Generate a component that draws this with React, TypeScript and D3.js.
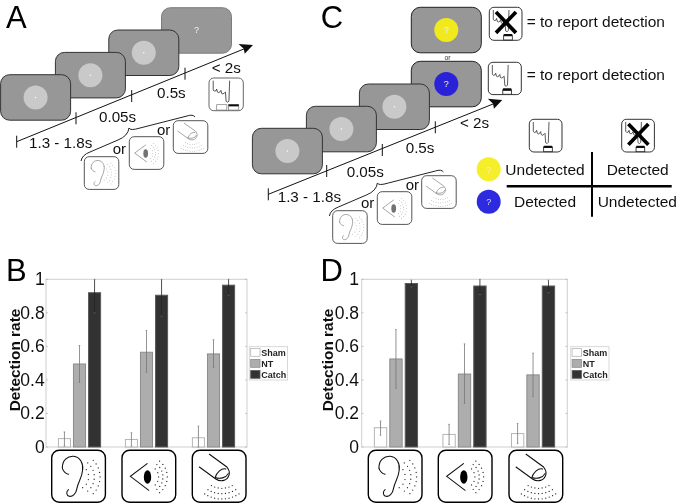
import React from "react";
import * as d3 from "d3";

const modalities = ["ear", "eye", "finger"];
const shamB = [0.05, 0.045, 0.055];
const ntB = [0.495, 0.565, 0.555];
const catchB = [0.92, 0.905, 0.965];
const shamBErr = [[0.005, 0.09], [0.005, 0.085], [0.0, 0.125]];
const ntBErr = [[0.385, 0.605], [0.445, 0.695], [0.475, 0.64]];
const catchBErr = [[0.8, 1.0], [0.78, 1.0], [0.905, 1.0]];
const shamD = [0.115, 0.075, 0.08];
const ntD = [0.525, 0.435, 0.43];
const catchD = [0.975, 0.96, 0.96];
const shamDErr = [[0.07, 0.155], [0.015, 0.135], [0.02, 0.14]];
const ntDErr = [[0.35, 0.7], [0.26, 0.615], [0.3, 0.56]];
const catchDErr = [[0.955, 0.995], [0.91, 1.0], [0.92, 0.995]];
const yTicks = [0, 0.2, 0.4, 0.6, 0.8, 1];
const yTickLabels = ["0", "0.2", "0.4", "0.6", "0.8", "1"];
const legendNames = ["Sham", "NT", "Catch"];
const durations = ["1.3 - 1.8s", "0.05s", "0.5s", "< 2s"];

const FONT = "'Liberation Sans', Arial, sans-serif";
const barStyles = [
  { fill: "#ffffff", stroke: "#b5b5b5" },
  { fill: "#adadad", stroke: "#8c8c8c" },
  { fill: "#333333", stroke: "#5a5a5a" },
];

function DottedArcs({ cx, cy, arcs, mid }: { cx: number; cy: number; arcs: number[][]; mid: number }) {
  const pts: [number, number][] = [];
  arcs.forEach(([r, span, n]) => {
    d3.range(n).forEach((i) => {
      const a = ((mid - span + (2 * span * i) / (n - 1)) * Math.PI) / 180;
      pts.push([cx + r * Math.cos(a), cy + r * Math.sin(a)]);
    });
  });
  return (
    <g>
      {pts.map((p, i) => (
        <circle key={i} cx={p[0]} cy={p[1]} r={1.9} fill="#222" />
      ))}
    </g>
  );
}

function StimGlyph({ kind }: { kind: string }) {
  const s = { fill: "none", stroke: "#111", strokeWidth: 3.2, strokeLinecap: "round" as const };
  if (kind === "ear") {
    return (
      <g>
        <path {...s} d="M32,55 C30,30 48,17 65,18 C85,20 95,40 92,60 C90,85 78,95 75,115 C73,130 62,140 52,138 C44,136 42,124 50,118" />
        <path {...s} d="M32,55 C36,65 42,70 50,72" />
        <DottedArcs cx={72} cy={80} mid={0} arcs={[[72, 44, 9], [55, 50, 8], [38, 58, 6]]} />
      </g>
    );
  }
  if (kind === "eye") {
    return (
      <g>
        <path {...s} d="M75,40 L25,78 L80,120" />
        <ellipse cx={76} cy={80} rx={11} ry={20} fill="#000" />
        <DottedArcs cx={75} cy={80} mid={0} arcs={[[60, 52, 9], [47, 52, 8], [34, 45, 5]]} />
      </g>
    );
  }
  return (
    <g>
      <path {...s} d="M21,50 L70,86 C85,96 105,92 110,72 C112,62 108,56 103,50 L51,12" />
      <path {...s} d="M68,82 C72,66 88,52 100,56 M68,82 C82,86 100,84 107,70" />
      <DottedArcs cx={88} cy={52} mid={90} arcs={[[94, 33, 11], [78, 32, 9], [62, 30, 7]]} />
    </g>
  );
}

function Stim({ kind, x, y, w, h, sw, stroke }: { kind: string; x: number; y: number; w: number; h: number; sw: number; stroke: string }) {
  const k = w / 160;
  return (
    <g transform={`translate(${x},${y})`}>
      <rect width={w} height={h} rx={w * 0.14} fill="#fff" stroke={stroke} strokeWidth={sw} />
      <g transform={`scale(${k},${h / 156})`} opacity={sw > 1.2 ? 1 : 0.55}>
        <StimGlyph kind={kind} />
      </g>
    </g>
  );
}

function HandIcon({ x, y, w, h, cross, pair, stroke }: { x: number; y: number; w: number; h: number; cross?: boolean; pair?: boolean; stroke?: string }) {
  const s = { fill: "none", stroke: "#333", strokeWidth: 2.4 };
  return (
    <g transform={`translate(${x},${y})`}>
      <rect width={w} height={h} rx={w * 0.14} fill="#fff" stroke={stroke ?? "#333"} strokeWidth={1} />
      <g transform={`scale(${w / 98},${h / 98})`}>
        <path {...s} d="M12,8 L12,36 Q14,42 20,38 L22,33 L24,42 Q28,46 32,41 L34,37 L36,46 Q40,50 44,45 L47,42 L49,70 Q54,76 57,69 L59,8" />
        {pair ? (
          <g>
            <rect x={22} y={80} width={29} height={16} fill="#fff" stroke="#777" strokeWidth={2} />
            <rect x={56} y={80} width={29} height={16} fill="#fff" stroke="#777" strokeWidth={2} />
            <rect x={56} y={79} width={29} height={6} fill="#111" />
          </g>
        ) : (
          <g>
            <rect x={43} y={84} width={26} height={13} fill="#fff" stroke="#222" strokeWidth={2.5} />
            <rect x={43} y={79} width={26} height={7} rx={2} fill="#111" />
          </g>
        )}
        {cross && <path d="M20,14 L80,76 M80,14 L20,76" stroke="#000" strokeWidth={11} fill="none" />}
      </g>
    </g>
  );
}

function Screen({ x, y, disc, mark, border }: { x: number; y: number; disc?: string; mark: string; border: string }) {
  const w = 70;
  const h = 45.5;
  return (
    <g>
      <rect x={x} y={y} width={w} height={h} rx={9} fill="#979797" stroke={border} strokeWidth={1} />
      {disc && <circle cx={x + w / 2} cy={y + h / 2} r={12} fill={disc} />}
      {mark === "dot" ? (
        <circle cx={x + w / 2} cy={y + h / 2} r={0.7} fill="#fff" />
      ) : (
        <text x={x + w / 2} y={y + h / 2 + 3} textAnchor="middle" fontFamily={FONT} fontSize={9} fill="#f0f0f0">?</text>
      )}
    </g>
  );
}

function Timeline({ start, tip, ticks, labels }: { start: number[]; tip: number[]; ticks: number[][]; labels: number[][] }) {
  const ang = Math.atan2(tip[1] - start[1], tip[0] - start[0]);
  const deg = (ang * 180) / Math.PI;
  return (
    <g>
      <line x1={start[0]} y1={start[1]} x2={tip[0] - 8} y2={tip[1] + 3.5} stroke="#111" strokeWidth={1} />
      <path d="M0,0 L-13,-6.5 L-10,0 L-11,5 Z" fill="#111" transform={`translate(${tip[0]},${tip[1]}) rotate(${deg})`} />
      {ticks.map((t, i) => (
        <line key={i} x1={t[0]} x2={t[0]} y1={t[1] - 6} y2={t[1] + 6} stroke="#111" strokeWidth={1} />
      ))}
      {durations.map((d, i) => (
        <text key={d} x={labels[i][0]} y={labels[i][1]} fontFamily={FONT} fontSize={15.2} fill="#111">{d}</text>
      ))}
    </g>
  );
}

function Brace({ dx, dy }: { dx: number; dy: number }) {
  return (
    <path transform={`translate(${dx},${dy})`} d="M81,161 Q82,155 90,152 L118,140 Q128,136 129,128 Q130,131 140,128 L187,116 Q193,114 195,117" fill="none" stroke="#222" strokeWidth={1} />
  );
}

function StimRow({ ear, eye, finger, ors }: { ear: number[]; eye: number[]; finger: number[]; ors: number[][] }) {
  const p = { w: 34.5, h: 32.7, sw: 1, stroke: "#555" };
  return (
    <g>
      <Stim kind="ear" x={ear[0]} y={ear[1]} {...p} />
      <Stim kind="eye" x={eye[0]} y={eye[1]} {...p} />
      <Stim kind="finger" x={finger[0]} y={finger[1]} {...p} />
      {ors.map((o, i) => (
        <text key={i} x={o[0]} y={o[1]} fontFamily={FONT} fontSize={15} fill="#111">or</text>
      ))}
    </g>
  );
}

function BarPanel({ left, right, tickRight, titleX, legendX, iconXs, letter, letterX, series, errs }: {
  left: number; right: number; tickRight: number; titleX: number; legendX: number; iconXs: number[]; letter: string; letterX: number; series: number[][]; errs: number[][][];
}) {
  const top = 279.3;
  const bottom = 447;
  const y = d3.scaleLinear().domain([0, 1]).range([bottom, top]);
  const x = d3.scaleLinear().domain([0.5, 3.5]).range([left, right]);
  const unit = x(2) - x(1);
  const barW = 0.18 * unit;
  const offs = [-0.225, 0, 0.225];
  return (
    <g>
      <text x={letterX} y={280.7} fontFamily={FONT} fontSize={31} fill="#000">{letter}</text>
      <rect x={left} y={top} width={right - left} height={bottom - top} fill="#fff" stroke="#cfcfcf" strokeWidth={1} />
      {yTicks.map((t, i) => (
        <g key={t}>
          <line x1={left} x2={left + 1.8} y1={y(t)} y2={y(t)} stroke="#aaa" strokeWidth={0.7} />
          <line x1={right - 1.8} x2={right} y1={y(t)} y2={y(t)} stroke="#aaa" strokeWidth={0.7} />
          <text x={tickRight} y={y(t) + 6} textAnchor="end" fontFamily={FONT} fontSize={17.5} fill="#111">{yTickLabels[i]}</text>
        </g>
      ))}
      <text transform={`translate(${titleX},360) rotate(-90)`} textAnchor="middle" fontFamily={FONT} fontWeight="bold" fontSize={15.4} fill="#111">Detection rate</text>
      {series.map((vals, s) =>
        vals.map((v, g) => {
          const cx = x(g + 1 + offs[s]);
          const e = errs[s][g];
          return (
            <g key={`${s}-${g}`}>
              <rect x={cx - barW / 2} y={y(v)} width={barW} height={bottom - y(v)} fill={barStyles[s].fill} stroke={barStyles[s].stroke} strokeWidth={1} />
              <line x1={cx} x2={cx} y1={y(e[0])} y2={y(e[1])} stroke={s === 2 ? "#222" : "#777"} strokeWidth={0.8} />
              <line x1={cx - 0.8} x2={cx + 0.8} y1={y(e[1])} y2={y(e[1])} stroke="#777" strokeWidth={0.7} />
              <line x1={cx - 0.8} x2={cx + 0.8} y1={y(e[0])} y2={y(e[0])} stroke="#777" strokeWidth={0.7} />
            </g>
          );
        })
      )}
      <rect x={legendX} y={346.7} width={38.3} height={33.3} fill="#fff" stroke="#cfcfcf" strokeWidth={0.8} />
      {legendNames.map((n, i) => (
        <g key={n}>
          <rect x={legendX + 1.4} y={348.5 + i * 11} width={9.3} height={7.8} fill={barStyles[i].fill} stroke={barStyles[i].stroke} strokeWidth={0.8} />
          <text x={legendX + 12} y={355.8 + i * 11} fontFamily={FONT} fontWeight="bold" fontSize={9} fill="#222">{n}</text>
        </g>
      ))}
      {modalities.map((m, i) => (
        <Stim key={m} kind={m} x={iconXs[i]} y={450.3} w={53.7} h={52} sw={1.4} stroke="#000" />
      ))}
    </g>
  );
}

export default function App() {
  return (
    <svg width={678} height={503} style={{ position: "absolute", left: 0, top: 0, background: "#fff" }}>
      <defs>
        <filter id="soft" x="0" y="0" width="100%" height="100%">
          <feGaussianBlur stdDeviation={0.35} />
        </filter>
      </defs>
      <g filter="url(#soft)">
        <rect width={678} height={503} fill="#fff" />
        {/* Panel A */}
        <text x={6} y={28} fontFamily={FONT} fontSize={31} fill="#000">A</text>
        <Screen x={161.5} y={7.7} mark="q" border="#7c7c7c" />
        <Screen x={108.8} y={30} disc="#c9c9c9" mark="dot" border="#333" />
        <Screen x={55.4} y={52.4} disc="#c9c9c9" mark="dot" border="#333" />
        <Screen x={0.6} y={74.7} disc="#c9c9c9" mark="dot" border="#333" />
        <Timeline
          start={[16.7, 141.7]}
          tip={[253, 45]}
          ticks={[[16.7, 141.7], [76, 118.3], [131.7, 96], [185, 73.7]]}
          labels={[[29, 148], [99, 121.7], [157, 97.7], [211.7, 73]]}
        />
        <HandIcon x={209} y={78} w={34.3} h={32.7} pair stroke="#666" />
        <Brace dx={0} dy={0} />
        <StimRow ear={[84.3, 156.7]} eye={[129.3, 136.7]} finger={[173.3, 120.7]} ors={[[112.7, 154], [157, 135]]} />

        {/* Panel C */}
        <text x={320.7} y={28} fontFamily={FONT} fontSize={31} fill="#000">C</text>
        <Screen x={411.3} y={7.3} disc="#f0ea1e" mark="q" border="#222" />
        <text x={447.5} y={60} textAnchor="middle" fontFamily={FONT} fontSize={7} fill="#333">or</text>
        <Screen x={411.3} y={61.3} disc="#2a22d8" mark="q" border="#222" />
        <Screen x={359.4} y={84} disc="#c9c9c9" mark="dot" border="#333" />
        <Screen x={306.4} y={106.3} disc="#c9c9c9" mark="dot" border="#333" />
        <Screen x={252.4} y={128.3} disc="#c9c9c9" mark="dot" border="#333" />
        <Timeline
          start={[268.3, 194.3]}
          tip={[502.3, 100]}
          ticks={[[268.3, 194.3], [326.7, 171], [382.3, 150], [435.3, 127.3]]}
          labels={[[277.7, 202], [346.7, 176.7], [405.7, 152.7], [460, 127.7]]}
        />
        <Brace dx={248.4} dy={55} />
        <StimRow ear={[332.7, 210.7]} eye={[377.3, 191.7]} finger={[421.7, 175.7]} ors={[[361, 208], [405.7, 190]]} />
        <HandIcon x={489.3} y={7.3} w={32.7} h={33} cross />
        <HandIcon x={488.3} y={62.3} w={33} h={32.3} />
        <text x={526.7} y={26.7} fontFamily={FONT} fontSize={15.5} fill="#111">= to report detection</text>
        <text x={526.7} y={80.3} fontFamily={FONT} fontSize={15.5} fill="#111">= to report detection</text>
        <HandIcon x={529.3} y={119.3} w={32.7} h={32.7} />
        <HandIcon x={621.7} y={119.3} w={32.7} h={32.7} cross />
        <circle cx={488.7} cy={169.3} r={12} fill="#f5ef2a" />
        <text x={488.7} y={172.5} textAnchor="middle" fontFamily={FONT} fontSize={9} fill="#f7f3a0">?</text>
        <circle cx={488.7} cy={201.7} r={12} fill="#2d2be0" />
        <text x={488.7} y={205} textAnchor="middle" fontFamily={FONT} fontSize={9} fill="#d8d8ff">?</text>
        <text x={545} y={175} textAnchor="middle" fontFamily={FONT} fontSize={15.5} fill="#111">Undetected</text>
        <text x={637.7} y={175} textAnchor="middle" fontFamily={FONT} fontSize={15.5} fill="#111">Detected</text>
        <text x={545} y={207.3} textAnchor="middle" fontFamily={FONT} fontSize={15.5} fill="#111">Detected</text>
        <text x={637.3} y={207.3} textAnchor="middle" fontFamily={FONT} fontSize={15.5} fill="#111">Undetected</text>
        <line x1={506.7} x2={671.7} y1={186.3} y2={186.3} stroke="#000" strokeWidth={2.4} />
        <line x1={592} x2={592} y1={152} y2={216.7} stroke="#000" strokeWidth={2} />

        {/* Panels B and D */}
        <BarPanel left={46} right={247} tickRight={44.7} titleX={20} legendX={249.3} iconXs={[51.7, 122, 192.3]} letter="B" letterX={6} series={[shamB, ntB, catchB]} errs={[shamBErr, ntBErr, catchBErr]} />
        <BarPanel left={361.7} right={567.3} tickRight={359} titleX={333} legendX={570.7} iconXs={[368.3, 438.3, 509]} letter="D" letterX={320.5} series={[shamD, ntD, catchD]} errs={[shamDErr, ntDErr, catchDErr]} />
      </g>
    </svg>
  );
}
